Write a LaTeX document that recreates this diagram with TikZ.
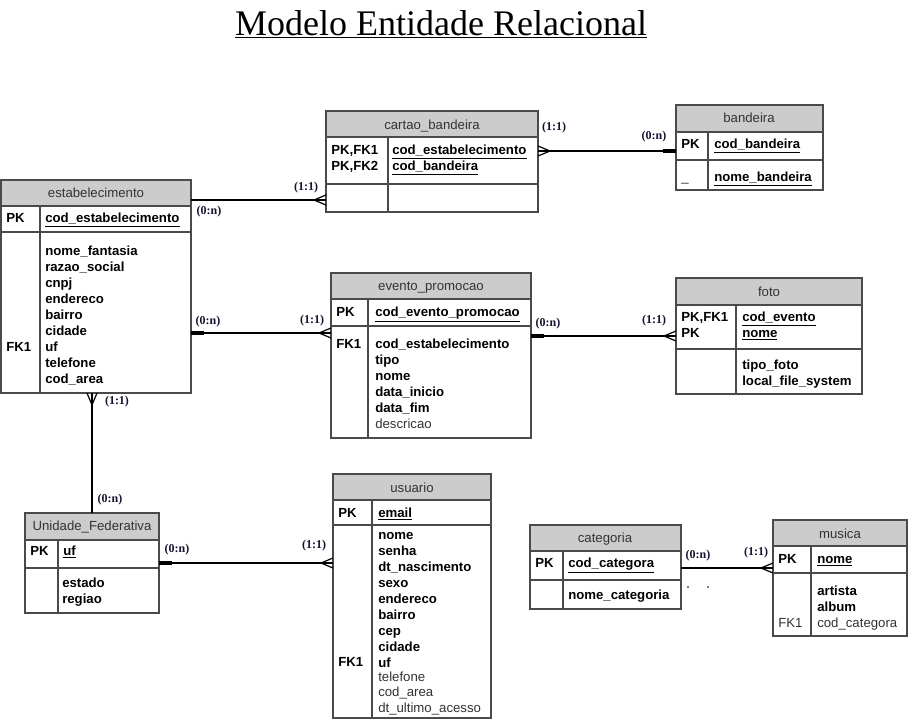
\documentclass[tikz,border=0pt]{standalone}
\usepackage{fontspec}
\setmainfont{Liberation Sans}
\newfontfamily\titlefont{Liberation Serif}
\usetikzlibrary{fit}
\definecolor{hdrgray}{HTML}{CCCCCC}
\definecolor{bordc}{HTML}{4A4A4A}
\definecolor{hdrtext}{HTML}{333333}
\definecolor{lblc}{HTML}{141432}
\newcommand\erentity[8]{% name, x1, y1, x2, y2, y header line, y row line, x divider
  \node[fit={(#2,#3) (#4,#5)}, inner sep=0pt, outer sep=0pt] (#1) {};
  \fill[hdrgray] (#2,#3) rectangle (#4,#6);
  \draw[eline] (#2,#6) -- (#4,#6) (#2,#7) -- (#4,#7) (#8,#6) -- (#8,#5);
  \draw[eline] (#2,#3) rectangle (#4,#5);
}
\begin{document}
\begin{tikzpicture}[x=0.75pt,y=-0.75pt,
  eline/.style={draw=bordc, line width=1pt},
  hdrtxt/.style={font=\fontsize{9.9}{12}\selectfont, text=hdrtext, inner sep=0pt, anchor=base},
  attr/.style={font=\fontsize{9.9}{12}\selectfont\bfseries, inner sep=0pt, anchor=base west},
  attrn/.style={font=\fontsize{9.9}{12}\selectfont, text=hdrtext, inner sep=0pt, anchor=base west},
  lbl/.style={font=\titlefont\bfseries\fontsize{9}{10}\selectfont, text=lblc, inner sep=0pt},
  rel/.style={draw=black, line width=1.2pt},
  onemark/.style={draw=black, line width=2.6pt},
  crowfoot/.pic={\draw[black, line width=0.9pt] (-12,-0) -- (0,5) (-12,0) -- (0,-5) (-12,0) -- (0,0);}
]
\useasboundingbox[fill=white] (0,0) rectangle (924,721);

% title
\node[font=\titlefont\fontsize{27}{30}\selectfont, inner sep=0pt] (title) at (441,24.5) {\underline{Modelo Entidade Relacional}};

% ---------- estabelecimento ----------
\erentity{estab}{1}{180}{191}{393}{206}{232}{40}
\node[hdrtxt] (estab-h) at (96,197) {estabelecimento};
\node[attr] (estab-pk) at (6,222.5) {PK};
\node[attr] (estab-pkn) at (45,222.5) {\underline{cod\_estabelecimento}};
\foreach \t [count=\i from 0] in {nome\_fantasia,razao\_social,cnpj,endereco,bairro,cidade,uf,telefone,cod\_area}
  \node[attr] (estab-a\i) at (45,{255.5+16*\i}) {\t};
\node[attr] (estab-fk) at (6,351.5) {FK1};

% ---------- cartao_bandeira ----------
\erentity{cart}{326}{111}{538}{212}{137}{184}{388}
\node[hdrtxt] (cart-h) at (432,129) {cartao\_bandeira};
\node[attr] (cart-k1) at (331,154.5) {PK,FK1};
\node[attr] (cart-k2) at (331,170.5) {PK,FK2};
\node[attr] (cart-a1) at (392,154.5) {\underline{cod\_estabelecimento}};
\node[attr] (cart-a2) at (392,170.5) {\underline{cod\_bandeira}};

% ---------- bandeira ----------
\erentity{band}{676}{105}{823}{190}{132}{160}{708}
\node[hdrtxt] (band-h) at (749,122) {bandeira};
\node[attr] (band-pk) at (681,148.5) {PK};
\node[attr] (band-pkn) at (714,148.5) {\underline{cod\_bandeira}};
\node[attrn] (band-k2) at (681,181.5) {\_};
\node[attr] (band-a1) at (714,181.5) {\underline{nome\_bandeira}};

% ---------- evento_promocao ----------
\erentity{evento}{331}{273}{531}{438}{299}{326}{368}
\node[hdrtxt] (evento-h) at (431,290) {evento\_promocao};
\node[attr] (evento-pk) at (336,316.5) {PK};
\node[attr] (evento-pkn) at (375,316.5) {\underline{cod\_evento\_promocao}};
\node[attr] (evento-fk) at (336,348.5) {FK1};
\foreach \t [count=\i from 0] in {cod\_estabelecimento,tipo,nome,data\_inicio,data\_fim}
  \node[attr] (evento-a\i) at (375,{348.5+16*\i}) {\t};
\node[attrn] (evento-a5) at (375,428.5) {descricao};

% ---------- foto ----------
\erentity{foto}{676}{278}{862}{394}{305}{349}{736}
\node[hdrtxt] (foto-h) at (769,296) {foto};
\node[attr] (foto-k1) at (681,321.5) {PK,FK1};
\node[attr] (foto-k2) at (681,337.5) {PK};
\node[attr] (foto-a1) at (742,321.5) {\underline{cod\_evento}};
\node[attr] (foto-a2) at (742,337.5) {\underline{nome}};
\node[attr] (foto-a3) at (742,369.5) {tipo\_foto};
\node[attr] (foto-a4) at (742,385.5) {local\_file\_system};

% ---------- Unidade_Federativa ----------
\erentity{uf}{25}{513}{159}{613}{540}{568}{58}
\node[hdrtxt] (uf-h) at (92,530) {Unidade\_Federativa};
\node[attr] (uf-pk) at (30,555.5) {PK};
\node[attr] (uf-pkn) at (63,555.5) {\underline{uf}};
\node[attr] (uf-a1) at (62,587.5) {estado};
\node[attr] (uf-a2) at (62,603.5) {regiao};

% ---------- usuario ----------
\erentity{usu}{333}{474}{491}{718}{500}{525}{372}
\node[hdrtxt] (usu-h) at (412,492) {usuario};
\node[attr] (usu-pk) at (338,517.5) {PK};
\node[attr] (usu-pkn) at (378,517.5) {\underline{email}};
\foreach \t [count=\i from 0] in {nome,senha,dt\_nascimento,sexo,endereco,bairro,cep,cidade,uf}
  \node[attr] (usu-a\i) at (378,{539.5+16*\i}) {\t};
\node[attr] (usu-fk) at (338,666.5) {FK1};
\node[attrn] (usu-b1) at (378,681.5) {telefone};
\node[attrn] (usu-b2) at (378,696.5) {cod\_area};
\node[attrn] (usu-b3) at (378,712.5) {dt\_ultimo\_acesso};

% ---------- categoria ----------
\erentity{cat}{530}{525}{681}{609}{551}{580}{563}
\node[hdrtxt] (cat-h) at (605,542) {categoria};
\node[attr] (cat-pk) at (535,567.5) {PK};
\node[attr] (cat-pkn) at (568,567.5) {\underline{cod\_categora}};
\node[attr] (cat-a1) at (568,599.5) {nome\_categoria};

% ---------- musica ----------
\erentity{mus}{773}{520}{907}{636}{546}{573}{811}
\node[hdrtxt] (mus-h) at (840,538) {musica};
\node[attr] (mus-pk) at (778,563.5) {PK};
\node[attr] (mus-pkn) at (817,563.5) {\underline{nome}};
\node[attr] (mus-a1) at (817,595.5) {artista};
\node[attr] (mus-a2) at (817,611.5) {album};
\node[attrn] (mus-fk) at (778,627.5) {FK1};
\node[attrn] (mus-a3) at (817,627.5) {cod\_categora};

% ---------- relationships ----------
% estabelecimento - cartao_bandeira
\draw[rel] (estab.east |- 0,200) -- (cart.west |- 0,200);
\pic at (cart.west |- 0,200) {crowfoot};
\node[lbl] (l1a) at (209,212) {(0:n)};
\node[lbl] (l1b) at (306,188) {(1:1)};

% cartao_bandeira - bandeira
\draw[rel] (cart.east |- 0,151) -- (band.west |- 0,151);
\pic[rotate=180] at (cart.east |- 0,151) {crowfoot};
\draw[onemark] (band.west |- 0,151) -- ++(-13,0);
\node[lbl] (l2a) at (554,128) {(1:1)};
\node[lbl] (l2b) at (654,137) {(0:n)};

% estabelecimento - evento_promocao
\draw[rel] (estab.east |- 0,333) -- (evento.west |- 0,333);
\draw[onemark] (estab.east |- 0,333) -- ++(13,0);
\pic at (evento.west |- 0,333) {crowfoot};
\node[lbl] (l3a) at (208,322) {(0:n)};
\node[lbl] (l3b) at (312,321) {(1:1)};

% evento_promocao - foto
\draw[rel] (evento.east |- 0,336) -- (foto.west |- 0,336);
\draw[onemark] (evento.east |- 0,336) -- ++(13,0);
\pic at (foto.west |- 0,336) {crowfoot};
\node[lbl] (l4a) at (548,324) {(0:n)};
\node[lbl] (l4b) at (654,321) {(1:1)};

% estabelecimento - Unidade_Federativa
\draw[rel] (estab.south -| 92,0) -- (uf.north -| 92,0);
\pic[rotate=90] at (estab.south -| 92,0) {crowfoot};
\node[lbl] (l5a) at (117,402) {(1:1)};
\node[lbl] (l5b) at (110,500) {(0:n)};

% Unidade_Federativa - usuario
\draw[rel] (uf.east |- 0,563) -- (usu.west |- 0,563);
\draw[onemark] (uf.east |- 0,563) -- ++(13,0);
\pic at (usu.west |- 0,563) {crowfoot};
\node[lbl] (l6a) at (177,550) {(0:n)};
\node[lbl] (l6b) at (314,546) {(1:1)};

% categoria - musica
\draw[rel] (cat.east |- 0,568) -- (mus.west |- 0,568);
\pic at (mus.west |- 0,568) {crowfoot};
\node[lbl] (l7a) at (698,556) {(0:n)};
\node[lbl] (l7b) at (756,553) {(1:1)};

% stray dots
\fill[black] (688,587) circle (0.8);
\fill[black] (708,587) circle (0.8);
\end{tikzpicture}
\end{document}
